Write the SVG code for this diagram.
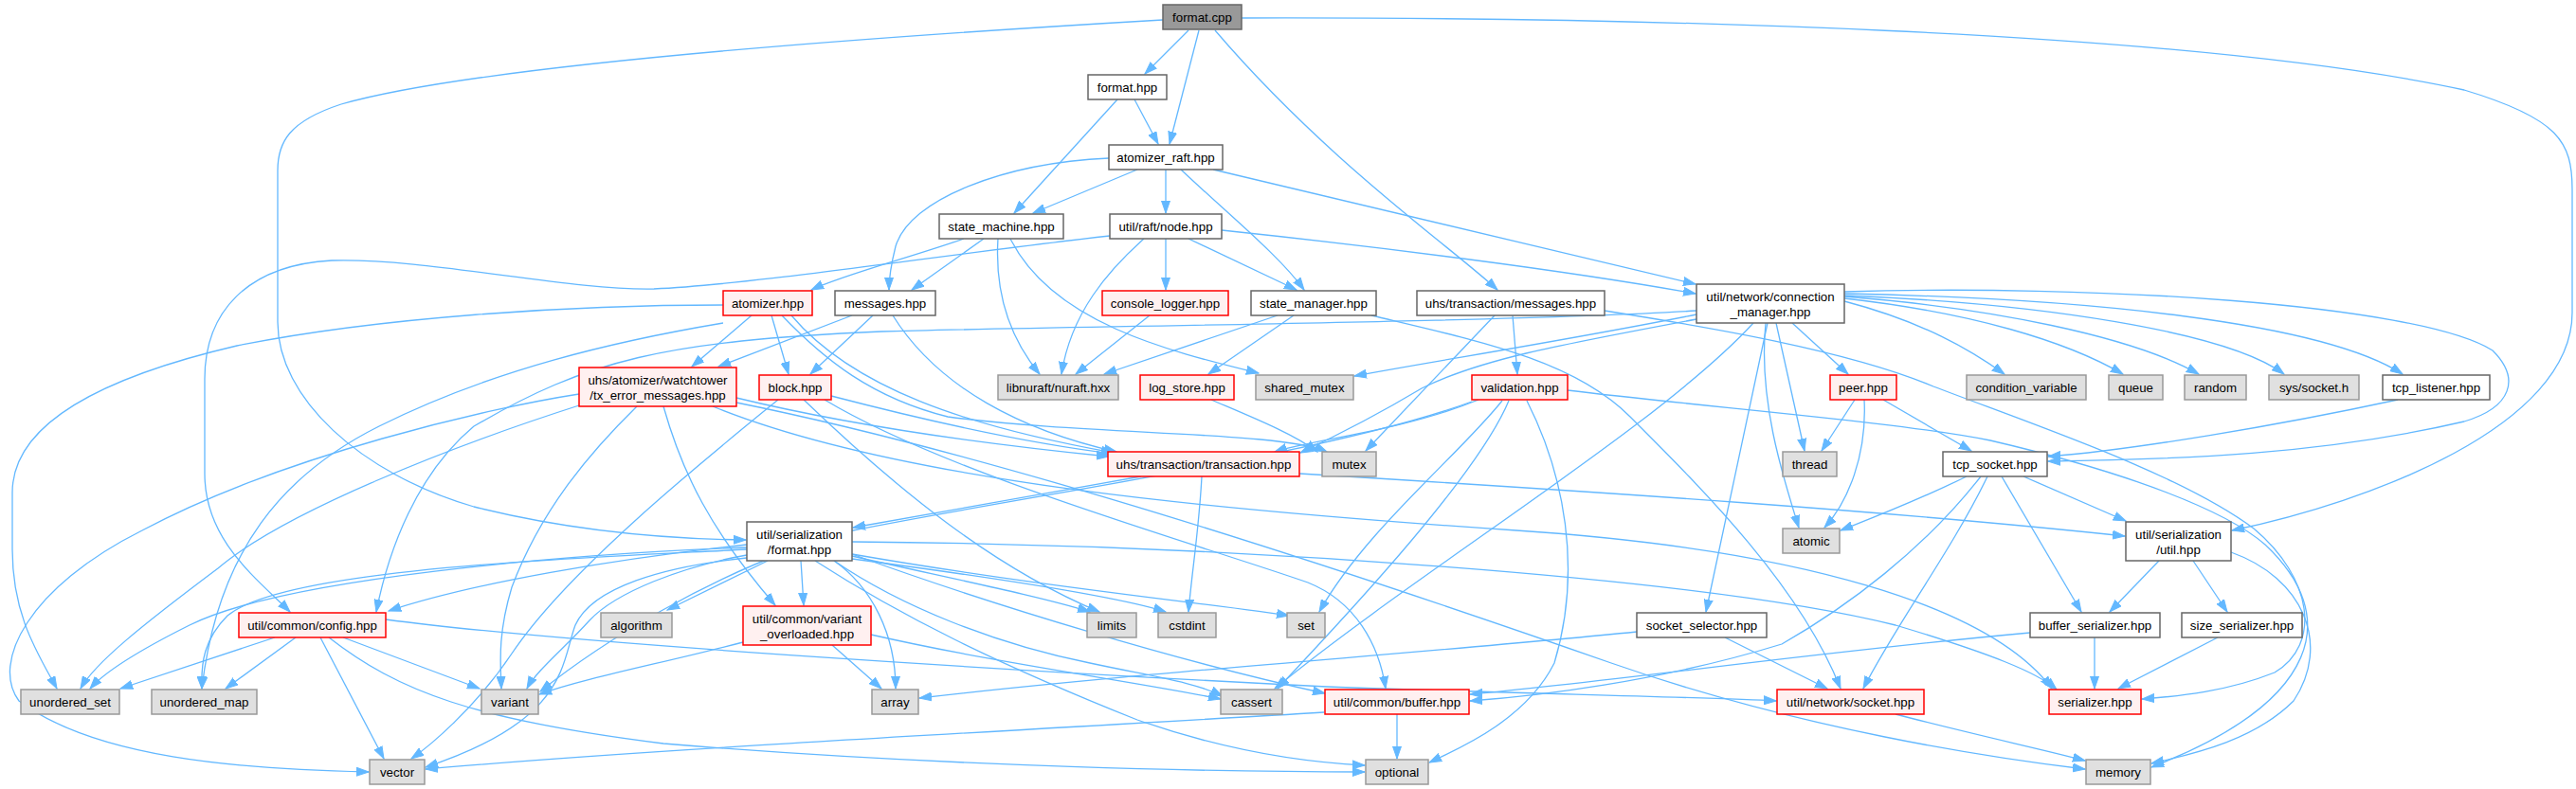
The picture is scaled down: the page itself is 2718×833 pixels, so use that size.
<svg xmlns="http://www.w3.org/2000/svg" width="2718" height="833" viewBox="0 0 2718 833">
<style>
.e{fill:none;stroke:#63b8ff;stroke-width:1.3}
rect{stroke-width:1.5}
.w rect{fill:#ffffff;stroke:#666666}
.g rect{fill:#e0e0e0;stroke:#999999}
.r rect{fill:#fff0f0;stroke:#ff0000}
.c rect{fill:#999999;stroke:#666666}
text{font-family:"Liberation Sans",Arial,sans-serif;font-size:13.3px;text-anchor:middle;fill:#000}
</style>
<defs>
<marker id="a" markerWidth="14" markerHeight="10" refX="13" refY="5" orient="auto" markerUnits="userSpaceOnUse"><path d="M0,0.5 L13,5 L0,9.5 z" fill="#63b8ff" stroke="#63b8ff" stroke-width="1"/></marker>
</defs>
<rect width="2718" height="833" fill="#ffffff"/>
<g id="edges" marker-end="url(#a)">
<path class="e" d="M1254,32 L1208,78"/>
<path class="e" d="M1265,32 L1234,152"/>
<path class="e" d="M1282,32 C1400,170 1530,260 1580,306"/>
<path class="e" d="M1227,21 C900,40 500,70 360,110 C305,128 293,150 293,180 L293,340 C293,420 380,500 500,535 C600,560 700,569 787,570"/>
<path class="e" d="M1310,19 C1700,18 2300,30 2600,95 C2700,125 2714,150 2714,200 L2714,330 C2714,450 2500,530 2355,560"/>
<path class="e" d="M1197,105 L1222,152"/>
<path class="e" d="M1179,105 L1070,225"/>
<path class="e" d="M1200,179 L1090,225"/>
<path class="e" d="M1230,179 L1230,225"/>
<path class="e" d="M1170,167 C1060,172 960,210 945,260 C940,280 938,295 938,306"/>
<path class="e" d="M1246,179 C1300,230 1350,270 1376,306"/>
<path class="e" d="M1280,179 L1789,300"/>
<path class="e" d="M1017,252 C960,272 890,290 856,306"/>
<path class="e" d="M1038,252 L962,306"/>
<path class="e" d="M1053,252 C1050,300 1060,350 1097,395"/>
<path class="e" d="M1066,252 C1110,340 1230,370 1328,394"/>
<path class="e" d="M1171,249 C1000,268 800,300 690,305 C600,307 450,272 350,275 C260,280 216,330 216,400 L216,500 C216,570 270,610 306,646"/>
<path class="e" d="M1230,252 L1230,306"/>
<path class="e" d="M1254,252 L1368,306"/>
<path class="e" d="M1289,243 C1450,260 1650,285 1789,310"/>
<path class="e" d="M1207,252 C1170,285 1130,330 1120,395"/>
<path class="e" d="M793,333 L730,387"/>
<path class="e" d="M814,333 L832,395"/>
<path class="e" d="M835,333 C900,410 1020,450 1175,478"/>
<path class="e" d="M825,333 C870,380 920,420 1000,440 C1150,460 1350,455 1400,477"/>
<path class="e" d="M763,322 C600,322 400,335 250,365 C100,400 13,450 13,520 L13,580 C13,650 40,690 60,727"/>
<path class="e" d="M763,341 C650,360 520,390 400,450 C300,500 230,580 213,727"/>
<path class="e" d="M899,333 L758,387"/>
<path class="e" d="M921,333 L855,395"/>
<path class="e" d="M942,333 C990,410 1080,455 1178,477"/>
<path class="e" d="M1213,333 L1135,395"/>
<path class="e" d="M1348,333 L1165,395"/>
<path class="e" d="M1365,333 L1275,395"/>
<path class="e" d="M1447,333 C1560,360 1660,380 1720,440 C1800,520 1900,620 1942,727"/>
<path class="e" d="M1596,333 L1601,395"/>
<path class="e" d="M1577,333 L1441,476"/>
<path class="e" d="M1693,328 C1800,345 1950,370 2040,408 C2150,450 2300,500 2378,558 C2440,610 2450,680 2400,710 C2350,730 2300,735 2260,738"/>
<path class="e" d="M1278,422 C1320,440 1365,458 1390,477"/>
<path class="e" d="M1560,422 C1480,455 1380,465 1345,477"/>
<path class="e" d="M1585,423 C1540,480 1440,560 1392,646"/>
<path class="e" d="M1592,423 C1560,500 1430,640 1348,727"/>
<path class="e" d="M1611,423 C1650,500 1670,600 1640,700 C1610,760 1540,790 1508,805"/>
<path class="e" d="M1553,424 C1400,480 1100,520 900,560 C750,600 620,690 570,730"/>
<path class="e" d="M1654,412 C1800,430 2000,445 2100,465 C2250,500 2350,540 2390,575 C2470,650 2450,740 2270,810"/>
<path class="e" d="M1790,332 C1650,360 1520,380 1429,397"/>
<path class="e" d="M1790,328 C1600,340 1100,345 930,350 C700,360 620,380 500,450 C440,500 410,580 397,646"/>
<path class="e" d="M1790,337 C1640,365 1560,380 1500,410 C1450,440 1410,460 1372,478"/>
<path class="e" d="M1874,341 L1904,476"/>
<path class="e" d="M1863,341 C1855,420 1880,500 1898,557"/>
<path class="e" d="M1891,341 L1950,395"/>
<path class="e" d="M1865,341 L1800,646"/>
<path class="e" d="M1850,341 C1750,450 1500,600 1345,727"/>
<path class="e" d="M1946,318 C2030,340 2080,370 2115,395"/>
<path class="e" d="M1946,315 C2080,330 2180,360 2240,395"/>
<path class="e" d="M1946,313 C2100,325 2250,355 2320,395"/>
<path class="e" d="M1946,312 C2150,320 2350,350 2410,395"/>
<path class="e" d="M1946,310 C2200,315 2450,340 2535,395"/>
<path class="e" d="M1946,308 C2200,300 2550,320 2630,370 C2660,400 2650,430 2600,445 C2450,480 2300,485 2161,487"/>
<path class="e" d="M1957,422 L1922,476"/>
<path class="e" d="M1967,422 C1970,480 1950,530 1925,557"/>
<path class="e" d="M1987,422 L2080,476"/>
<path class="e" d="M2530,422 C2400,450 2250,475 2161,482"/>
<path class="e" d="M2075,503 C2020,530 1980,545 1942,560"/>
<path class="e" d="M2135,503 L2243,550"/>
<path class="e" d="M2112,503 L2196,646"/>
<path class="e" d="M2097,503 C2060,580 2000,660 1966,727"/>
<path class="e" d="M2090,503 C2030,580 1950,640 1880,680 C1750,720 1620,735 1551,740"/>
<path class="e" d="M1204,503 L900,557"/>
<path class="e" d="M1268,503 C1265,560 1258,600 1254,646"/>
<path class="e" d="M1371,500 C1700,520 2000,540 2242,566"/>
<path class="e" d="M788,575 C650,590 500,615 410,645"/>
<path class="e" d="M810,592 L704,644"/>
<path class="e" d="M845,592 L848,639"/>
<path class="e" d="M899,587 C1000,610 1100,630 1150,646"/>
<path class="e" d="M899,590 C1050,610 1180,630 1230,646"/>
<path class="e" d="M899,585 C1100,620 1300,640 1360,650"/>
<path class="e" d="M880,592 C920,620 945,670 945,727"/>
<path class="e" d="M880,592 C950,640 1050,680 1150,700 C1220,715 1260,720 1290,735"/>
<path class="e" d="M860,592 C950,650 1050,700 1200,760 C1300,795 1380,805 1440,808"/>
<path class="e" d="M899,585 C1050,640 1250,700 1398,732"/>
<path class="e" d="M899,572 C1300,575 1800,610 2000,660 C2100,690 2150,710 2170,728"/>
<path class="e" d="M788,578 C600,585 300,610 200,660 C140,690 110,710 95,727"/>
<path class="e" d="M788,580 C600,590 300,600 240,650 C215,675 212,700 213,727"/>
<path class="e" d="M788,586 C720,598 650,625 622,655 C595,685 566,708 556,727"/>
<path class="e" d="M788,589 C700,598 625,620 607,660 C592,700 600,760 449,810"/>
<path class="e" d="M784,678 C700,700 620,715 569,733"/>
<path class="e" d="M878,681 L930,727"/>
<path class="e" d="M919,670 C1050,700 1200,720 1288,738"/>
<path class="e" d="M877,418 C1000,450 1100,470 1175,479"/>
<path class="e" d="M821,422 C750,480 600,600 540,690 C500,750 450,790 434,801"/>
<path class="e" d="M848,422 C950,520 1050,600 1160,646"/>
<path class="e" d="M870,422 C1000,500 1250,570 1380,615 C1430,635 1455,680 1462,727"/>
<path class="e" d="M777,420 C900,450 1050,470 1170,482"/>
<path class="e" d="M611,416 C520,430 300,480 150,560 C30,620 -10,700 20,740 C100,800 250,812 389,815"/>
<path class="e" d="M611,428 C480,470 300,540 230,600 C150,660 100,700 85,727"/>
<path class="e" d="M700,429 C720,500 750,560 818,639"/>
<path class="e" d="M672,429 C620,480 570,540 540,620 C525,670 528,700 529,727"/>
<path class="e" d="M752,429 C950,510 1300,540 1600,560 C1900,580 2100,640 2165,727"/>
<path class="e" d="M777,425 C1000,470 1300,560 1700,700 C1900,770 2100,800 2200,812"/>
<path class="e" d="M290,673 L127,727"/>
<path class="e" d="M312,673 L238,727"/>
<path class="e" d="M338,673 L405,801"/>
<path class="e" d="M362,673 L506,727"/>
<path class="e" d="M347,673 C420,730 500,760 700,785 C1000,810 1300,815 1440,815"/>
<path class="e" d="M407,654 C600,680 1100,710 1400,725 C1600,732 1800,736 1874,740"/>
<path class="e" d="M1474,754 L1474,801"/>
<path class="e" d="M1397,752 C1100,770 700,790 449,812"/>
<path class="e" d="M2000,754 C2080,775 2150,790 2200,803"/>
<path class="e" d="M1820,673 L1928,727"/>
<path class="e" d="M1727,667 C1500,690 1200,710 970,737"/>
<path class="e" d="M2278,592 L2226,646"/>
<path class="e" d="M2314,592 L2350,646"/>
<path class="e" d="M2354,583 C2430,610 2460,680 2420,740 C2380,780 2320,795 2270,806"/>
<path class="e" d="M2210,673 L2210,727"/>
<path class="e" d="M2142,668 C1900,690 1700,720 1551,733"/>
<path class="e" d="M2340,673 L2235,727"/>
</g>
<g id="n0" class="c"><rect x="1227" y="5" width="83" height="26"/><text x="1268.5" y="23">format.cpp</text></g>
<g id="n1" class="w"><rect x="1148" y="79" width="83" height="26"/><text x="1189.5" y="97">format.hpp</text></g>
<g id="n2" class="w"><rect x="1170" y="153" width="120" height="26"/><text x="1230" y="171">atomizer_raft.hpp</text></g>
<g id="n3" class="w"><rect x="991" y="226" width="131" height="26"/><text x="1056.5" y="244">state_machine.hpp</text></g>
<g id="n4" class="w"><rect x="1171" y="226" width="118" height="26"/><text x="1230" y="244">util/raft/node.hpp</text></g>
<g id="n5" class="r"><rect x="763" y="307" width="94" height="26"/><text x="810" y="325">atomizer.hpp</text></g>
<g id="n6" class="w"><rect x="881" y="307" width="106" height="26"/><text x="934" y="325">messages.hpp</text></g>
<g id="n7" class="r"><rect x="1163" y="307" width="133" height="26"/><text x="1229.5" y="325">console_logger.hpp</text></g>
<g id="n8" class="w"><rect x="1320" y="307" width="132" height="26"/><text x="1386" y="325">state_manager.hpp</text></g>
<g id="n9" class="w"><rect x="1495" y="307" width="198" height="26"/><text x="1594" y="325">uhs/transaction/messages.hpp</text></g>
<g id="n10" class="w"><rect x="1790" y="300" width="156" height="41"/><text x="1868" y="317.5">util/network/connection</text><text x="1868" y="333.5">_manager.hpp</text></g>
<g id="n11" class="r"><rect x="611" y="388" width="166" height="41"/><text x="694" y="405.5">uhs/atomizer/watchtower</text><text x="694" y="421.5">/tx_error_messages.hpp</text></g>
<g id="n12" class="r"><rect x="801" y="396" width="76" height="26"/><text x="839" y="414">block.hpp</text></g>
<g id="n13" class="g"><rect x="1053" y="396" width="127" height="26"/><text x="1116.5" y="414">libnuraft/nuraft.hxx</text></g>
<g id="n14" class="r"><rect x="1203" y="396" width="99" height="26"/><text x="1252.5" y="414">log_store.hpp</text></g>
<g id="n15" class="g"><rect x="1325" y="396" width="103" height="26"/><text x="1376.5" y="414">shared_mutex</text></g>
<g id="n16" class="r"><rect x="1553" y="396" width="101" height="26"/><text x="1603.5" y="414">validation.hpp</text></g>
<g id="n17" class="r"><rect x="1931" y="396" width="70" height="26"/><text x="1966" y="414">peer.hpp</text></g>
<g id="n18" class="g"><rect x="2075" y="396" width="126" height="26"/><text x="2138" y="414">condition_variable</text></g>
<g id="n19" class="g"><rect x="2225" y="396" width="57" height="26"/><text x="2253.5" y="414">queue</text></g>
<g id="n20" class="g"><rect x="2305" y="396" width="65" height="26"/><text x="2337.5" y="414">random</text></g>
<g id="n21" class="g"><rect x="2394" y="396" width="95" height="26"/><text x="2441.5" y="414">sys/socket.h</text></g>
<g id="n22" class="w"><rect x="2514" y="396" width="113" height="26"/><text x="2570.5" y="414">tcp_listener.hpp</text></g>
<g id="n23" class="r"><rect x="1169" y="477" width="202" height="26"/><text x="1270" y="495">uhs/transaction/transaction.hpp</text></g>
<g id="n24" class="g"><rect x="1395" y="477" width="57" height="26"/><text x="1423.5" y="495">mutex</text></g>
<g id="n25" class="g"><rect x="1881" y="477" width="57" height="26"/><text x="1909.5" y="495">thread</text></g>
<g id="n26" class="w"><rect x="2050" y="477" width="110" height="26"/><text x="2105" y="495">tcp_socket.hpp</text></g>
<g id="n27" class="w"><rect x="788" y="551" width="111" height="41"/><text x="843.5" y="568.5">util/serialization</text><text x="843.5" y="584.5">/format.hpp</text></g>
<g id="n28" class="g"><rect x="1881" y="558" width="60" height="26"/><text x="1911" y="576">atomic</text></g>
<g id="n29" class="w"><rect x="2243" y="551" width="111" height="41"/><text x="2298.5" y="568.5">util/serialization</text><text x="2298.5" y="584.5">/util.hpp</text></g>
<g id="n30" class="r"><rect x="252" y="647" width="155" height="26"/><text x="329.5" y="665">util/common/config.hpp</text></g>
<g id="n31" class="g"><rect x="634" y="647" width="75" height="26"/><text x="671.5" y="665">algorithm</text></g>
<g id="n32" class="r"><rect x="784" y="640" width="135" height="41"/><text x="851.5" y="657.5">util/common/variant</text><text x="851.5" y="673.5">_overloaded.hpp</text></g>
<g id="n33" class="g"><rect x="1147" y="647" width="52" height="26"/><text x="1173" y="665">limits</text></g>
<g id="n34" class="g"><rect x="1222" y="647" width="61" height="26"/><text x="1252.5" y="665">cstdint</text></g>
<g id="n35" class="g"><rect x="1358" y="647" width="40" height="26"/><text x="1378" y="665">set</text></g>
<g id="n36" class="w"><rect x="1727" y="647" width="137" height="26"/><text x="1795.5" y="665">socket_selector.hpp</text></g>
<g id="n37" class="w"><rect x="2142" y="647" width="137" height="26"/><text x="2210.5" y="665">buffer_serializer.hpp</text></g>
<g id="n38" class="w"><rect x="2302" y="647" width="127" height="26"/><text x="2365.5" y="665">size_serializer.hpp</text></g>
<g id="n39" class="g"><rect x="22" y="728" width="104" height="26"/><text x="74" y="746">unordered_set</text></g>
<g id="n40" class="g"><rect x="160" y="728" width="111" height="26"/><text x="215.5" y="746">unordered_map</text></g>
<g id="n41" class="g"><rect x="508" y="728" width="60" height="26"/><text x="538" y="746">variant</text></g>
<g id="n42" class="g"><rect x="920" y="728" width="49" height="26"/><text x="944.5" y="746">array</text></g>
<g id="n43" class="g"><rect x="1288" y="728" width="65" height="26"/><text x="1320.5" y="746">cassert</text></g>
<g id="n44" class="r"><rect x="1398" y="728" width="152" height="26"/><text x="1474" y="746">util/common/buffer.hpp</text></g>
<g id="n45" class="r"><rect x="1875" y="728" width="155" height="26"/><text x="1952.5" y="746">util/network/socket.hpp</text></g>
<g id="n46" class="r"><rect x="2162" y="728" width="97" height="26"/><text x="2210.5" y="746">serializer.hpp</text></g>
<g id="n47" class="g"><rect x="390" y="802" width="58" height="26"/><text x="419" y="820">vector</text></g>
<g id="n48" class="g"><rect x="1441" y="802" width="66" height="26"/><text x="1474" y="820">optional</text></g>
<g id="n49" class="g"><rect x="2201" y="802" width="68" height="26"/><text x="2235" y="820">memory</text></g>
</svg>
